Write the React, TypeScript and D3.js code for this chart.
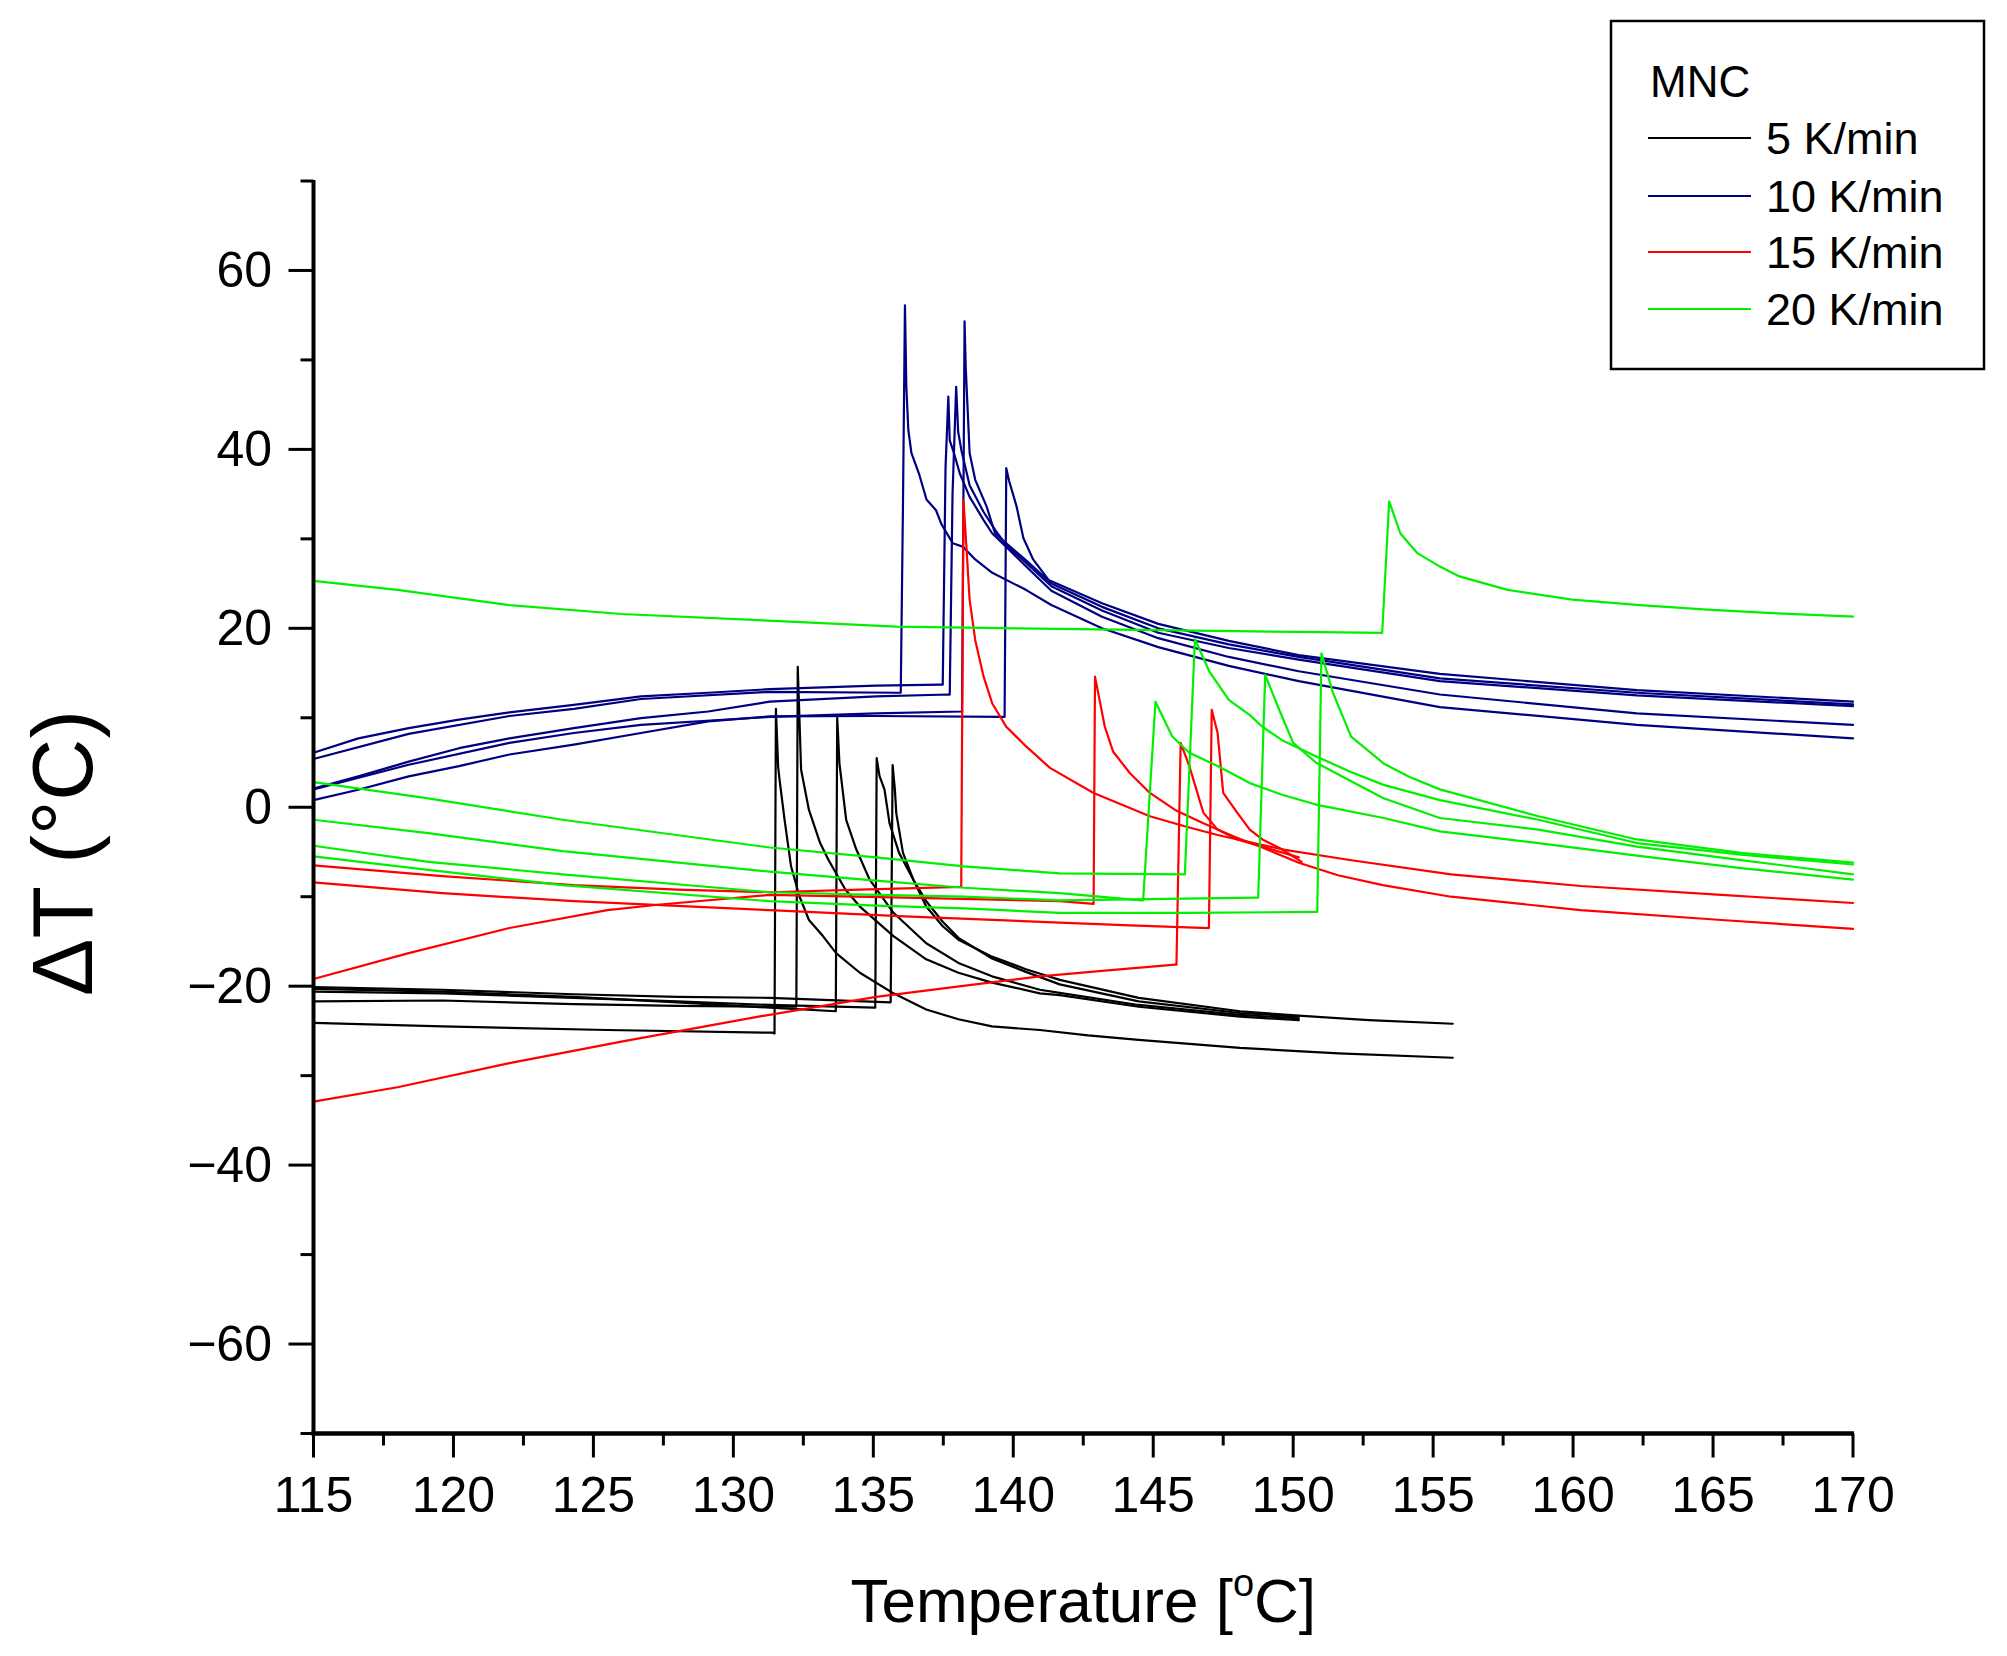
import React from "react";
import * as d3 from "d3";

type Pt = [number, number];

// ---- tick values ----
const xMajorTicks = [115, 120, 125, 130, 135, 140, 145, 150, 155, 160, 165, 170];
const xMinorTicks = [117.5, 122.5, 127.5, 132.5, 137.5, 142.5, 147.5, 152.5, 157.5, 162.5, 167.5];
const yMajorTicks = [-60, -40, -20, 0, 20, 40, 60];
const yMinorTicks = [-70, -50, -30, -10, 10, 30, 50, 70];

// ---- legend ----
const legendTitle = "MNC";
const seriesNames = ["5 K/min", "10 K/min", "15 K/min", "20 K/min"];
const seriesColors = ["#000000", "#000080", "#ff0000", "#00f000"];

// ---- 5 K/min runs (black) ----
const k5run1: Pt[] = [[115,-24.1],[119.6,-24.5],[125.5,-24.9],[131.4,-25.2],[131.47,-25.3],[131.52,11.0],[131.6,4.5],[131.65,3.1],[131.83,-1.4],[132.06,-6.6],[132.36,-9.95],[132.7,-12.6],[133.2,-14.4],[133.67,-16.3],[134.52,-18.5],[135.72,-20.8],[136.89,-22.6],[138.04,-23.7],[139.24,-24.5],[140.95,-24.9],[142.67,-25.5],[144.48,-26.0],[148.1,-26.9],[151.62,-27.5],[155.7,-28.0]];
const k5run2: Pt[] = [[115,-21.7],[119.6,-21.6],[124.3,-22.0],[128,-22.2],[131.3,-22.3],[132.25,-22.3],[132.3,15.7],[132.36,10],[132.42,4.2],[132.7,-0.3],[133.1,-4.0],[133.4,-5.9],[134.0,-9.2],[134.52,-11.1],[135.72,-14.4],[136.89,-17.0],[138.04,-18.5],[139.24,-19.6],[140.95,-20.8],[141.66,-21.0],[144.48,-22.3],[148.1,-23.4],[150.2,-23.8]];
const k5run3: Pt[] = [[115,-20.3],[119.6,-20.6],[124.3,-21.2],[128,-21.8],[131.3,-22.4],[133.66,-22.8],[133.71,10.0],[133.79,4.9],[134.03,-1.4],[134.39,-4.7],[134.87,-8.1],[135.72,-11.8],[136.89,-15.2],[138.04,-17.4],[139.24,-18.9],[140.95,-20.4],[141.66,-20.75],[144.48,-22.1],[148.1,-23.2],[150.2,-23.6]];
const k5run4: Pt[] = [[115,-20.6],[119.6,-20.8],[124.3,-21.3],[128,-21.7],[131.3,-22.1],[135.07,-22.4],[135.12,5.5],[135.22,3.5],[135.4,1.96],[135.58,-1.8],[135.92,-5.1],[136.43,-8.1],[136.89,-10.5],[137.48,-12.8],[138.04,-14.6],[139.24,-16.9],[140.45,-18.4],[141.66,-19.8],[144.48,-21.7],[148.1,-23.0],[150.2,-23.4]];
const k5run5: Pt[] = [[115,-20.1],[119.6,-20.4],[124.3,-20.9],[128,-21.2],[131.3,-21.3],[135.62,-21.8],[135.69,4.7],[135.77,2.0],[135.82,-0.65],[136.06,-5.1],[136.43,-8.1],[136.89,-11.1],[137.48,-13.3],[138.04,-14.8],[139.24,-16.7],[140.45,-18.1],[141.66,-19.3],[144.48,-21.3],[148.1,-22.8],[150.2,-23.3],[152.7,-23.8],[155.7,-24.2]];

// ---- 10 K/min runs (navy) ----
const k10run1: Pt[] = [[115,6.1],[116.6,7.7],[118.4,8.85],[120.2,9.8],[122,10.6],[124.3,11.45],[126.7,12.4],[129.1,12.8],[131.3,13.2],[135.1,13.6],[137.43,13.7],[137.48,13.7],[137.58,38],[137.68,45.9],[137.73,41],[137.88,39.6],[138.09,37.3],[138.44,34.7],[138.94,32.1],[139.25,30.6],[139.75,29.1],[140.46,26.9],[141.36,24.2],[143.17,21.3],[145.18,18.9],[147.7,16.8],[150.2,15.2],[155.24,12.6],[162.28,10.5],[170,9.2]];
const k10run2: Pt[] = [[115,5.4],[118.4,8.2],[122,10.2],[124.3,11.0],[126.7,12.1],[131.3,12.9],[135.91,12.8],[135.98,12.8],[136.06,34],[136.13,56.1],[136.18,47],[136.25,42.2],[136.36,39.6],[136.63,37.3],[136.9,34.4],[137.24,33.2],[137.44,31.6],[137.84,29.5],[138.21,29.1],[138.64,27.7],[139.25,26.2],[140.45,24.3],[141.36,22.6],[143.17,20.0],[145.18,17.9],[147.7,15.8],[150.2,14.1],[155.24,11.2],[162.28,9.2],[170,7.7]];
const k10run3: Pt[] = [[115,2.1],[116.6,3.45],[118.4,5.1],[120.2,6.6],[122,7.7],[124.3,8.85],[126.7,9.97],[129.1,10.7],[131.3,11.8],[135.1,12.4],[137.68,12.6],[137.73,12.6],[137.83,35],[137.96,47.0],[138.03,42],[138.14,40],[138.44,36],[138.94,33],[139.35,31],[139.75,29.3],[140.46,27.3],[141.36,24.7],[143.17,22.0],[145.18,19.5],[147.7,17.8],[150.2,16.5],[155.24,14.1],[162.28,12.5],[170,11.3]];
const k10run4: Pt[] = [[115,2.0],[118.4,4.75],[122,7.2],[124.3,8.3],[126.7,9.2],[131.3,10.1],[135.1,10.5],[138.14,10.7],[138.17,10.7],[138.22,35],[138.26,54.3],[138.3,49.3],[138.44,39.6],[138.64,36.6],[139.05,33.6],[139.35,30.6],[139.75,29.5],[140.46,27.6],[141.36,25.0],[143.17,22.4],[145.18,20.0],[147.7,18.2],[150.2,16.8],[155.24,14.4],[162.28,12.8],[170,11.5]];
const k10run5: Pt[] = [[115,0.8],[116.6,1.96],[118.4,3.45],[120.2,4.6],[122,5.9],[124.3,7.0],[126.7,8.3],[129.1,9.6],[131.3,10.15],[135.1,10.2],[139.69,10.1],[139.75,37.9],[139.85,36.5],[140.12,33.6],[140.36,30.1],[140.71,27.7],[141.26,25.4],[143.17,22.8],[145.18,20.5],[147.7,18.6],[150.2,17.0],[155.24,14.9],[162.28,13.1],[170,11.8]];

// ---- 15 K/min runs (red) ----
const k15run1: Pt[] = [[115,-6.5],[119.6,-7.7],[124.3,-8.7],[128,-9.2],[131.3,-9.5],[134.5,-9.2],[138.14,-8.9],[138.22,34.4],[138.34,28.4],[138.44,23.2],[138.64,18.7],[138.94,14.6],[139.25,11.6],[139.75,9.0],[140.46,6.8],[141.31,4.4],[142.87,1.6],[144.88,-1.0],[146.09,-2.1],[147.3,-3.1],[149.6,-4.7],[152.02,-5.9],[155.64,-7.5],[160.27,-8.8],[165.3,-9.8],[170,-10.7]];
const k15run2: Pt[] = [[115,-19.2],[118.4,-16.3],[122,-13.5],[125.5,-11.5],[127.3,-10.9],[131.3,-9.8],[136.13,-10.1],[141.66,-10.5],[142.87,-10.8],[142.92,14.6],[143.27,9.0],[143.57,6.2],[144.17,3.8],[144.88,1.6],[145.78,-0.3],[146.79,-1.8],[147.9,-3.3],[148.9,-4.5],[150.2,-6.2],[151.6,-7.6],[153.2,-8.7],[155.64,-10.0],[160.27,-11.5],[165.3,-12.6],[170,-13.6]];
const k15run3: Pt[] = [[115,-32.9],[118,-31.3],[122,-28.6],[126,-26.2],[130.9,-23.4],[135.1,-21.2],[138.14,-20.0],[140.95,-18.9],[143.17,-18.3],[145.78,-17.6],[145.83,-17.6],[145.98,7.2],[146.29,4.6],[146.54,2.0],[146.79,-0.6],[147.3,-2.5],[148.0,-3.6],[148.9,-4.4],[150.2,-5.6]];
const k15run4: Pt[] = [[115,-8.4],[119.6,-9.6],[124.3,-10.5],[131.3,-11.5],[136.13,-12.2],[141.66,-12.9],[144.17,-13.2],[146.99,-13.5],[147.09,10.9],[147.3,8.3],[147.5,1.6],[148.0,-0.6],[148.45,-2.5],[148.9,-3.6],[149.6,-4.7],[150.3,-6.1]];

// ---- 20 K/min runs (green) ----
const k20run1: Pt[] = [[115,25.3],[118,24.3],[122,22.6],[126,21.6],[131.65,20.8],[135.82,20.2],[140.15,20.0],[145.18,19.8],[150.2,19.6],[153.18,19.5],[153.43,34.2],[153.83,30.6],[154.44,28.4],[155.24,26.9],[155.94,25.8],[157.66,24.3],[159.97,23.2],[162.39,22.6],[164.8,22.1],[167.12,21.7],[170,21.3]];
const k20run2: Pt[] = [[115,-1.4],[119.1,-2.9],[123.9,-4.9],[131.3,-7.2],[135.1,-8.2],[138.24,-9.0],[141.66,-9.6],[144.58,-10.4],[144.64,-10.4],[145.08,11.8],[145.68,7.9],[146.29,6.1],[147.3,4.6],[148.45,2.7],[149.6,1.4],[150.81,0.3],[153.23,-1.2],[155.24,-2.7],[158.76,-4.0],[162.28,-5.4],[166,-6.8],[170,-8.1]];
const k20run3: Pt[] = [[115,2.8],[119.1,1.0],[123.9,-1.4],[131.3,-4.5],[135.1,-5.6],[138.24,-6.6],[141.66,-7.4],[146.09,-7.5],[146.13,-7.5],[146.49,18.8],[147.0,15.2],[147.7,12.0],[148.45,10.3],[148.9,9.0],[149.6,7.5],[150.81,5.7],[152.02,4.0],[153.23,2.5],[155.24,0.8],[158.76,-1.4],[162.28,-4.0],[166,-5.3],[170,-6.4]];
const k20run4: Pt[] = [[115,-4.3],[119.1,-6.1],[123.9,-7.5],[131.3,-9.5],[135.1,-9.8],[138.24,-10.0],[141.66,-10.4],[144.17,-10.3],[148.7,-10.1],[148.75,-10.1],[149.0,14.8],[149.5,10.9],[150.0,7.2],[150.81,5.0],[152.02,3.0],[153.23,1.0],[155.24,-1.2],[158.76,-2.5],[162.28,-4.4],[166,-5.9],[170,-7.5]];
const k20run5: Pt[] = [[115,-5.5],[119.1,-7.0],[123.9,-8.7],[131.3,-10.5],[135.1,-11.0],[138.24,-11.3],[141.66,-11.8],[146.2,-11.8],[150.81,-11.7],[150.86,-11.7],[151.01,17.2],[151.42,12.8],[152.07,7.9],[153.23,4.9],[154.14,3.4],[155.24,2.0],[158.76,-1.0],[162.28,-3.6],[166,-5.1],[170,-6.2]];

const runsBySeries: Pt[][][] = [
  [k5run1, k5run2, k5run3, k5run4, k5run5],
  [k10run1, k10run2, k10run3, k10run4, k10run5],
  [k15run1, k15run2, k15run3, k15run4],
  [k20run1, k20run2, k20run3, k20run4, k20run5],
];

const FONT = "'Liberation Sans', Arial, Helvetica, sans-serif";

export default function App() {
  const W = 2007;
  const H = 1656;
  const x = d3.scaleLinear().domain([115, 170]).range([313.5, 1853]);
  const y = d3.scaleLinear().domain([-70, 70]).range([1433.5, 181]);
  const line = d3
    .line<Pt>()
    .x((d) => x(d[0]))
    .y((d) => y(d[1]));

  const fmt = (v: number) => (v < 0 ? "\u2212" + Math.abs(v) : String(v));

  const legendLineY = [138, 196, 252, 309];

  return (
    <svg
      width={W}
      height={H}
      viewBox={`0 0 ${W} ${H}`}
      style={{ position: "absolute", left: 0, top: 0, background: "#fff" }}
      fontFamily={FONT}
    >
      <rect x={0} y={0} width={W} height={H} fill="#fff" />

      {/* data */}
      <g fill="none" strokeWidth={2.2} strokeLinejoin="round" strokeLinecap="round">
        {runsBySeries.map((runs, si) =>
          runs.map((run, ri) => (
            <path key={`${si}-${ri}`} d={line(run) || ""} stroke={seriesColors[si]} />
          ))
        )}
      </g>

      {/* axes */}
      <g stroke="#000">
        <line x1={x(115)} x2={x(115)} y1={y(70) - 1} y2={y(-70) + 2} strokeWidth={4} />
        <line x1={x(115) - 2} x2={x(170) + 1} y1={y(-70)} y2={y(-70)} strokeWidth={4.5} />
        {yMajorTicks.map((t) => (
          <line key={`ym${t}`} x1={x(115) - 25} x2={x(115)} y1={y(t)} y2={y(t)} strokeWidth={3} />
        ))}
        {yMinorTicks.map((t) => (
          <line key={`yn${t}`} x1={x(115) - 13} x2={x(115)} y1={y(t)} y2={y(t)} strokeWidth={3} />
        ))}
        {xMajorTicks.map((t) => (
          <line key={`xm${t}`} x1={x(t)} x2={x(t)} y1={y(-70)} y2={y(-70) + 24} strokeWidth={3} />
        ))}
        {xMinorTicks.map((t) => (
          <line key={`xn${t}`} x1={x(t)} x2={x(t)} y1={y(-70)} y2={y(-70) + 12} strokeWidth={3} />
        ))}
      </g>

      {/* tick labels */}
      <g fontSize={50} fill="#000">
        {yMajorTicks.map((t) => (
          <text key={`yl${t}`} x={272} y={y(t) + 17} textAnchor="end">
            {fmt(t)}
          </text>
        ))}
        {xMajorTicks.map((t) => (
          <text key={`xl${t}`} x={x(t)} y={1512} textAnchor="middle">
            {fmt(t)}
          </text>
        ))}
      </g>

      {/* axis titles */}
      <text x={(x(115) + x(170)) / 2} y={1622} fontSize={62} textAnchor="middle" fill="#000">
        Temperature [
        <tspan fontSize={38} dy={-26}>o</tspan>
        <tspan dy={26}>C]</tspan>
      </text>
      <text
        transform="translate(92,853) rotate(-90)"
        fontSize={86}
        textAnchor="middle"
        fill="#000"
      >
        ΔT (°C)
      </text>

      {/* legend */}
      <rect x={1611} y={21} width={373} height={348} fill="#fff" stroke="#000" strokeWidth={2.5} />
      <text x={1650} y={97} fontSize={44} fill="#000">
        {legendTitle}
      </text>
      {seriesNames.map((name, i) => (
        <g key={name}>
          <line x1={1648} x2={1751} y1={legendLineY[i]} y2={legendLineY[i]} stroke={seriesColors[i]} strokeWidth={2.2} />
          <text x={1766} y={legendLineY[i] + 16} fontSize={45} fill="#000">
            {name}
          </text>
        </g>
      ))}
    </svg>
  );
}
